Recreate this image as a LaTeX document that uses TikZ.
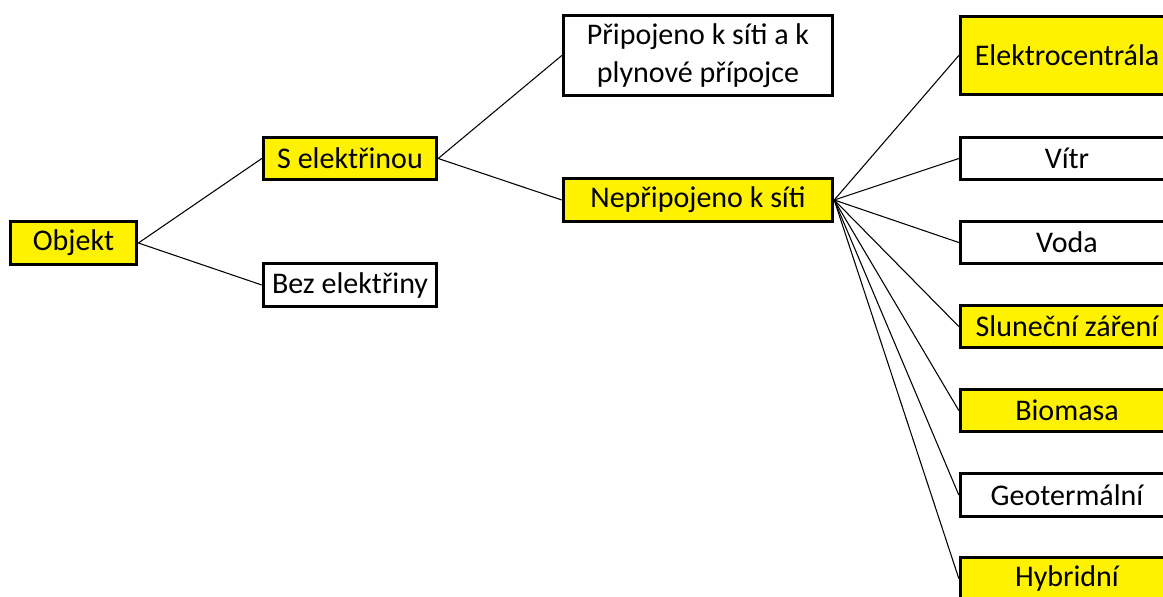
\documentclass[tikz,border=0pt]{standalone}
\usepackage{fontspec}
\setmainfont{Carlito}
\usepackage{tikz}

\tikzset{
  box/.style={draw=black, line width=2.3pt, inner sep=0pt, align=center,
    minimum height=32pt, font=\fontsize{22.5}{28.5}\selectfont},
  yelbox/.style={box, fill=yellow},
  whtbox/.style={box, fill=white},
  link/.style={draw=black, line width=0.8pt}
}

\begin{document}
\begin{tikzpicture}[x=0.75pt,y=0.75pt,yscale=-1]
\clip (0,0) rectangle (1163,596);
\fill[white] (0,0) rectangle (1163,596);

% Levels 1 and 2
\node [yelbox, minimum width=95pt] (objekt) at (73.5,243) {Objekt};
\node [yelbox, minimum width=130pt] (selek) at (350,158.5) {S elektřinou};
\node [whtbox, minimum width=130pt] (bezelek) at (350,285) {Bez elektřiny};

% Level 3
\node [whtbox, minimum width=202pt, minimum height=60pt] (pripoj) at (698,55.5) {Připojeno k síti a k\\plynové přípojce};
\node [yelbox, minimum width=202pt] (nepripoj) at (698,200) {Nepřipojeno k síti};

% Level 4
\node [yelbox, minimum width=160pt, minimum height=59pt] (elektro) at (1067,55.5) {Elektrocentrála};
\node [whtbox, minimum width=160pt] (vitr) at (1067,158.5) {Vítr};
\node [whtbox, minimum width=160pt] (voda) at (1067,242.5) {Voda};
\node [yelbox, minimum width=160pt] (slunce) at (1067,326.5) {Sluneční záření};
\node [yelbox, minimum width=160pt] (biomasa) at (1067,410.5) {Biomasa};
\node [whtbox, minimum width=160pt] (geo) at (1067,495) {Geotermální};
\node [yelbox, minimum width=160pt] (hybrid) at (1067,578.5) {Hybridní};

% Connectors
\draw [link] (objekt.east) -- (selek.west);
\draw [link] (objekt.east) -- (bezelek.west);
\draw [link] (selek.east) -- (pripoj.west);
\draw [link] (selek.east) -- (nepripoj.west);
\foreach \leaf in {elektro,vitr,voda,slunce,biomasa,geo,hybrid}
  \draw [link] (nepripoj.east) -- (\leaf.west);

\end{tikzpicture}
\end{document}
